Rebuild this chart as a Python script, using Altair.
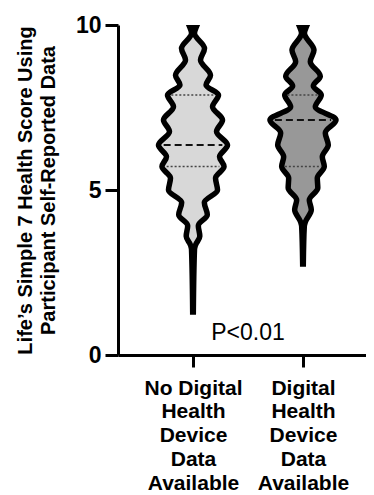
import json
import numpy as np
import pandas as pd
import altair as alt

# ---------------- data ----------------
groups = ["No Digital Health Device Data Available", "Digital Health Device Data Available"]
x_label_lines = [
    ["No Digital", "Health", "Device", "Data", "Available"],
    ["Digital", "Health", "Device", "Data", "Available"],
]
centers = [1, 2]
fills = ["#d8d8d8", "#989898"]

# violin profiles: score value and relative density (1 = widest)
v1_values = [9.92, 9.75, 9.29, 8.94, 8.48, 8.18, 7.88, 7.52, 7.12, 6.77, 6.36, 6.01,
             5.71, 5.36, 5.00, 4.62, 4.25, 3.92, 3.60, 3.33, 3.20, 1.30]
v1_density = [0.087, 0.043, 0.333, 0.217, 0.507, 0.377, 0.739, 0.565, 0.855, 0.681, 1.0, 0.768,
              0.899, 0.652, 0.710, 0.328, 0.414, 0.154, 0.197, 0.072, 0.043, 0.009]

v2_values = [9.92, 9.75, 9.24, 8.89, 8.45, 8.15, 7.88, 7.52, 7.12, 6.73, 6.36, 6.01,
             5.71, 5.36, 5.06, 4.70, 4.40, 4.04, 3.90, 2.76]
v2_density = [0.087, 0.043, 0.319, 0.212, 0.501, 0.299, 0.530, 0.357, 0.957, 0.646, 0.733, 0.559,
              0.617, 0.414, 0.429, 0.183, 0.241, 0.072, 0.038, 0.009]

q1 = [5.71, 5.71]
median = [6.36, 7.12]
q3 = [7.88, 7.88]

p_text = "P<0.01"
p_pos = [1.5, 0.67]

y_ticks = [0, 5, 10]
y_title = ["Life\u2019s Simple 7 Health Score Using", "Participant Self-Reported Data"]

MAX_HALF = 0.314  # widest half-width in category units

# ---------------- tables ----------------
profiles = [(v1_values, v1_density), (v2_values, v2_density)]
rows = []
for g, c, (vals, dens) in zip(groups, centers, profiles):
    for v, d in zip(vals, dens):
        rows.append({"group": g, "value": v, "left": c - d * MAX_HALF, "right": c + d * MAX_HALF})
df = pd.DataFrame(rows)

def qlines(qs, shrink=0.85):
    out = []
    for g, c, q, (vals, dens) in zip(groups, centers, qs, profiles):
        d = np.interp(q, vals[::-1], dens[::-1]) * shrink
        out.append({"group": g, "value": q, "left": c - d * MAX_HALF, "right": c + d * MAX_HALF})
    return pd.DataFrame(out)

dq = pd.concat([qlines(q1), qlines(q3)])
dm = qlines(median)

FONT = "Liberation Sans"
xscale = alt.Scale(domain=[0.318, 2.573], zero=False, nice=False)
yscale = alt.Scale(domain=[0, 10], zero=True, nice=False)

label_expr = "datum.value == 1 ? {} : {}".format(json.dumps(x_label_lines[0]), json.dumps(x_label_lines[1]))

xaxis = alt.Axis(values=centers, labelExpr=label_expr, title=None, grid=False,
                 labelFontSize=21, labelFontWeight="bold", labelLineHeight=23.8,
                 labelColor="black", labelFont=FONT, labelFlush=False, labelOverlap=False,
                 labelBaseline="top", labelPadding=10,
                 tickSize=12, tickWidth=3, tickColor="black", domainWidth=3, domainColor="black")
yaxis = alt.Axis(values=y_ticks, title=y_title, grid=False,
                 labelFontSize=23, labelFontWeight="bold", labelColor="black", labelFont=FONT,
                 labelPadding=4, labelFlush=False,
                 tickSize=13, tickWidth=3, tickColor="black", domainWidth=3, domainColor="black",
                 titleFontSize=20, titleFontWeight="bold", titleFont=FONT, titleColor="black",
                 titleLineHeight=23, titlePadding=17)

violins = alt.Chart(df).mark_area(
    orient="horizontal", interpolate="monotone", stroke="black", strokeWidth=5.5, strokeJoin="miter"
).encode(
    y=alt.Y("value:Q", scale=yscale, axis=yaxis),
    x=alt.X("left:Q", scale=xscale, axis=xaxis),
    x2="right:Q",
    fill=alt.Fill("group:N", scale=alt.Scale(domain=groups, range=fills), legend=None),
)

qrules = alt.Chart(dq).mark_rule(strokeDash=[2, 2], color="#444444", strokeWidth=1.6).encode(
    y="value:Q", x="left:Q", x2="right:Q")
mrules = alt.Chart(dm).mark_rule(strokeDash=[7, 4], color="#111111", strokeWidth=2).encode(
    y="value:Q", x="left:Q", x2="right:Q")

ptext = alt.Chart(pd.DataFrame({"t": [p_text], "x": [p_pos[0]], "y": [p_pos[1]]})).mark_text(
    fontSize=23, font=FONT, color="black"
).encode(x="x:Q", y="y:Q", text="t:N")

chart = alt.layer(violins, qrules, mrules, ptext).properties(
    width=248, height=330,
    autosize=alt.AutoSizeParams(type="none"),
    padding={"left": 110, "top": 17, "right": 0, "bottom": 140},
).configure_view(stroke=None)

chart.save("out.html", embed_options={"renderer": "svg", "actions": False})
